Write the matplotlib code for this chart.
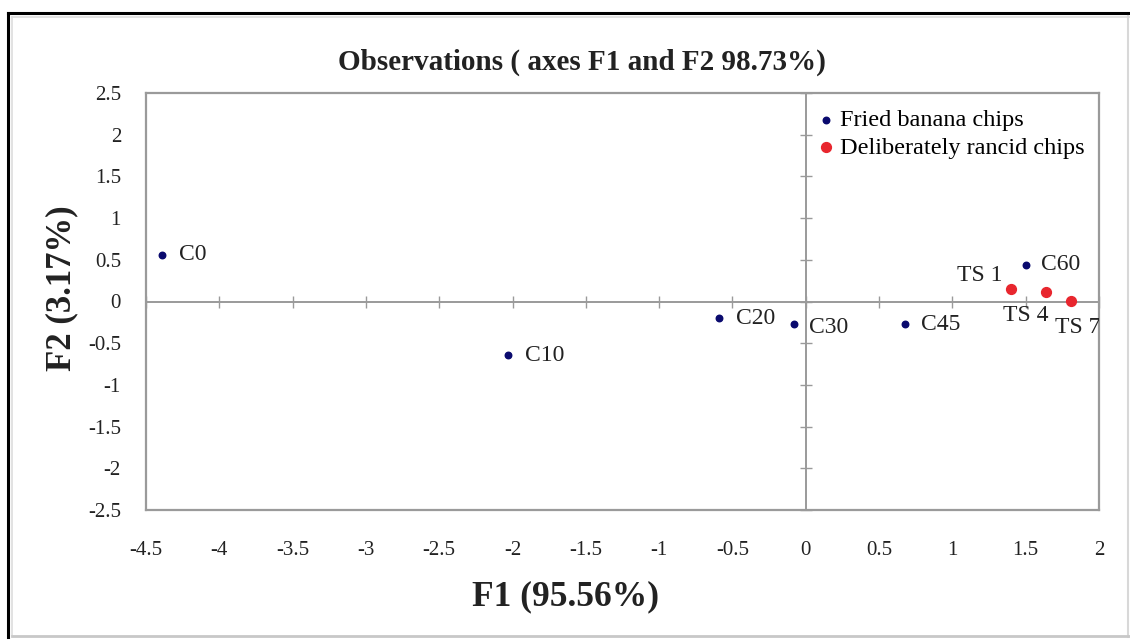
import matplotlib.pyplot as plt
from matplotlib.lines import Line2D

plt.rcParams['font.family'] = ['Liberation Serif', 'DejaVu Serif']

# observations (F1, F2 scores)
fried_names = ['C0', 'C10', 'C20', 'C30', 'C45', 'C60']
fried_f1 = [-4.39, -2.03, -0.59, -0.08, 0.68, 1.50]
fried_f2 = [0.56, -0.64, -0.20, -0.27, -0.27, 0.44]

rancid_names = ['TS 1', 'TS 4', 'TS 7']
rancid_f1 = [1.40, 1.64, 1.81]
rancid_f2 = [0.15, 0.11, 0.01]

x_ticks = [-4.5, -4, -3.5, -3, -2.5, -2, -1.5, -1, -0.5, 0, 0.5, 1, 1.5, 2]
y_ticks = [-2.5, -2, -1.5, -1, -0.5, 0, 0.5, 1, 1.5, 2, 2.5]

navy = '#0a0a6e'
red = '#e8262e'
grey = '#9a9a9a'

fig = plt.figure(figsize=(11.3, 6.4), dpi=100)

# outer frame of the picture
fig.add_artist(Line2D([8 / 1130, 8 / 1130], [0.005, 627 / 640], color='black', lw=2.2))
fig.add_artist(Line2D([8 / 1130, 1.0], [627 / 640, 627 / 640], color='black', lw=2.2))
fig.add_artist(Line2D([12 / 1130, 12 / 1130], [0.008, 623 / 640], color='#dddddd', lw=1.2))
fig.add_artist(Line2D([12 / 1130, 1.0], [623 / 640, 623 / 640], color='#dddddd', lw=1.2))
fig.add_artist(Line2D([1128 / 1130, 1128 / 1130], [0.005, 624 / 640], color='#d8d8d8', lw=1.5))
fig.add_artist(Line2D([12 / 1130, 1.0], [4 / 640, 4 / 640], color='#c8c8c8', lw=2))

ax = fig.add_axes([146 / 1130, 130 / 640, 953 / 1130, 417 / 640])
ax.set_xlim(-4.5, 2)
ax.set_ylim(-2.5, 2.5)
ax.set_xticks(x_ticks)
ax.set_yticks(y_ticks)
ax.set_xticklabels(['%g' % v for v in x_ticks])
ax.set_yticklabels(['%g' % v for v in y_ticks])
ax.tick_params(length=0, labelsize=15, colors='#222222')
ax.tick_params(axis='x', pad=22)
ax.tick_params(axis='y', pad=18)
for s in ax.spines.values():
    s.set_color(grey)
    s.set_linewidth(1.6)

# axes through the origin with crossing ticks
ax0 = fig.add_axes(ax.get_position(), sharex=ax, sharey=ax)
ax0.patch.set_visible(False)
ax0.spines['left'].set_position(('data', 0))
ax0.spines['bottom'].set_position(('data', 0))
ax0.spines['top'].set_visible(False)
ax0.spines['right'].set_visible(False)
for k in ['left', 'bottom']:
    ax0.spines[k].set_color(grey)
    ax0.spines[k].set_linewidth(1.4)
ax0.tick_params(direction='inout', length=9, width=1, color=grey,
                labelleft=False, labelbottom=False)

ax0.scatter(fried_f1, fried_f2, s=22, color=navy, zorder=3, label='Fried banana chips')
ax0.scatter(rancid_f1, rancid_f2, s=50, color=red, zorder=3, label='Deliberately rancid chips')

fried_off = [(17, 0), (17, -1), (17, 0), (15, -3), (16, 0), (15, 0)]
for n, x, y, o in zip(fried_names, fried_f1, fried_f2, fried_off):
    ax0.annotate(n, (x, y), xytext=o, textcoords='offset pixels',
                 ha='left', va='center', fontsize=17, color='#222222')

rancid_off = [(-9, 13, 'right'), (2, -23, 'right'), (-16, -27, 'left')]
for n, x, y, o in zip(rancid_names, rancid_f1, rancid_f2, rancid_off):
    ax0.annotate(n, (x, y), xytext=(o[0], o[1]), textcoords='offset pixels',
                 ha=o[2], va='center', fontsize=17, color='#222222',
                 annotation_clip=False, clip_on=True)

ax0.legend(loc='upper left', bbox_to_anchor=(0.686, 0.996), frameon=False,
           fontsize=17.5, handletextpad=0.05, labelspacing=0.22,
           handlelength=1.0, borderaxespad=0.2)

fig.text(582 / 1130, 1 - 62 / 640, 'Observations ( axes F1 and F2 98.73%)',
         ha='center', va='center', fontsize=21, fontweight='bold', color='#222222')
fig.text(566 / 1130, 1 - 597 / 640, 'F1 (95.56%)', ha='center', va='center',
         fontsize=25.5, fontweight='bold', color='#222222')
fig.text(62 / 1130, 1 - 288 / 640, 'F2 (3.17%)', ha='center', va='center',
         rotation=90, fontsize=25, fontweight='bold', color='#222222')

fig.savefig('out.png', dpi=100)
